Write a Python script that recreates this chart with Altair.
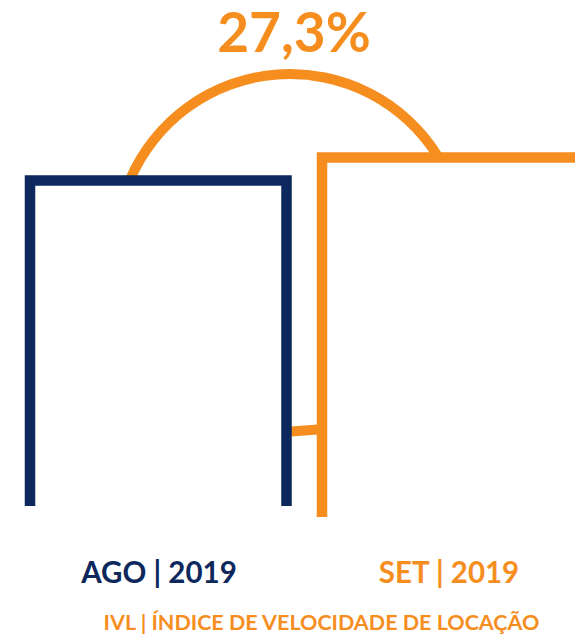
import altair as alt
import pandas as pd

# ---- data (infographic units: x to the right, y downward) ----
labels = ["AGO | 2019", "SET | 2019"]
colors = ["#0c285c", "#f68e1f"]
bar_left = [30, 322]
bar_right = [286.5, 585]
bar_top = [180.5, 157.5]
bar_bottom = [506, 517]

label_x = [159, 449]
label_y = [583, 583]

change_text = ["27,3%"]
change_x = [294]
change_y = [52]

subtitle = ["IVL | ÍNDICE DE VELOCIDADE DE LOCAÇÃO"]
subtitle_x = [321.5]
subtitle_y = [630]

arc_cx = [290]
arc_cy = [248]
arc_r_outer = [179]
arc_r_inner = [169]
arc_theta = [5.111]
arc_theta2 = [7.307]

link_x = [291, 318]
link_y = [431.5, 429.5]

ORANGE = colors[1]
NAVY = colors[0]
FONT = "Lato"
W, H = 575, 638

xs = alt.Scale(domain=[0, W], nice=False, zero=False)
ys = alt.Scale(domain=[0, H], nice=False, zero=False, reverse=True)
cs = alt.Scale(domain=labels, range=colors)

# outline rows (open at bottom)
rows = []
for i, lab in enumerate(labels):
    pts = [(bar_left[i], bar_bottom[i]), (bar_left[i], bar_top[i]),
           (bar_right[i], bar_top[i]), (bar_right[i], bar_bottom[i])]
    for k, (px, py) in enumerate(pts):
        rows.append({"bar": lab, "o": k, "x": px, "y": py})
bars_df = pd.DataFrame(rows)

bars = alt.Chart(bars_df).mark_line(strokeWidth=10.5, strokeJoin="miter", strokeCap="butt").encode(
    x=alt.X("x:Q", scale=xs, axis=None),
    y=alt.Y("y:Q", scale=ys, axis=None),
    color=alt.Color("bar:N", scale=cs, legend=None),
    detail="bar:N",
    order="o:Q",
)

link = alt.Chart(pd.DataFrame({"x": link_x, "y": link_y})).mark_line(
    strokeWidth=10, color=ORANGE, strokeCap="butt").encode(
    x=alt.X("x:Q", scale=xs, axis=None),
    y=alt.Y("y:Q", scale=ys, axis=None),
)

arc_df = pd.DataFrame({"cx": arc_cx, "cy": arc_cy, "r": arc_r_outer, "r2": arc_r_inner,
                       "t": arc_theta, "t2": arc_theta2})
arc = alt.Chart(arc_df).mark_arc(color=ORANGE).encode(
    x=alt.X("cx:Q", scale=xs, axis=None),
    y=alt.Y("cy:Q", scale=ys, axis=None),
    theta=alt.Theta("t:Q", scale=None),
    theta2="t2:Q",
    radius=alt.Radius("r:Q", scale=None),
    radius2="r2:Q",
)

lab_df = pd.DataFrame({"label": labels, "x": label_x, "y": label_y})
month_text = alt.Chart(lab_df).mark_text(
    font=FONT, fontSize=29.5, fontWeight="bold", baseline="alphabetic", align="center").encode(
    x=alt.X("x:Q", scale=xs, axis=None),
    y=alt.Y("y:Q", scale=ys, axis=None),
    text="label:N",
    color=alt.Color("label:N", scale=cs, legend=None),
)

pct = alt.Chart(pd.DataFrame({"t": change_text, "x": change_x, "y": change_y})).mark_text(
    font=FONT, fontSize=55, fontWeight="bold", baseline="alphabetic", align="center", color=ORANGE).encode(
    x=alt.X("x:Q", scale=xs, axis=None),
    y=alt.Y("y:Q", scale=ys, axis=None),
    text="t:N",
)

sub = alt.Chart(pd.DataFrame({"t": subtitle, "x": subtitle_x, "y": subtitle_y})).mark_text(
    font=FONT, fontSize=21.5, fontWeight="bold", baseline="alphabetic", align="center", color=ORANGE).encode(
    x=alt.X("x:Q", scale=xs, axis=None),
    y=alt.Y("y:Q", scale=ys, axis=None),
    text="t:N",
)

chart = alt.layer(arc, link, bars, month_text, pct, sub).properties(
    width=W, height=H, autosize=alt.AutoSizeParams(type="none"), padding=0,
    background="white",
).configure_view(stroke=None, clip=True)

chart.save("out.html", embed_options={"renderer": "svg", "actions": False})
